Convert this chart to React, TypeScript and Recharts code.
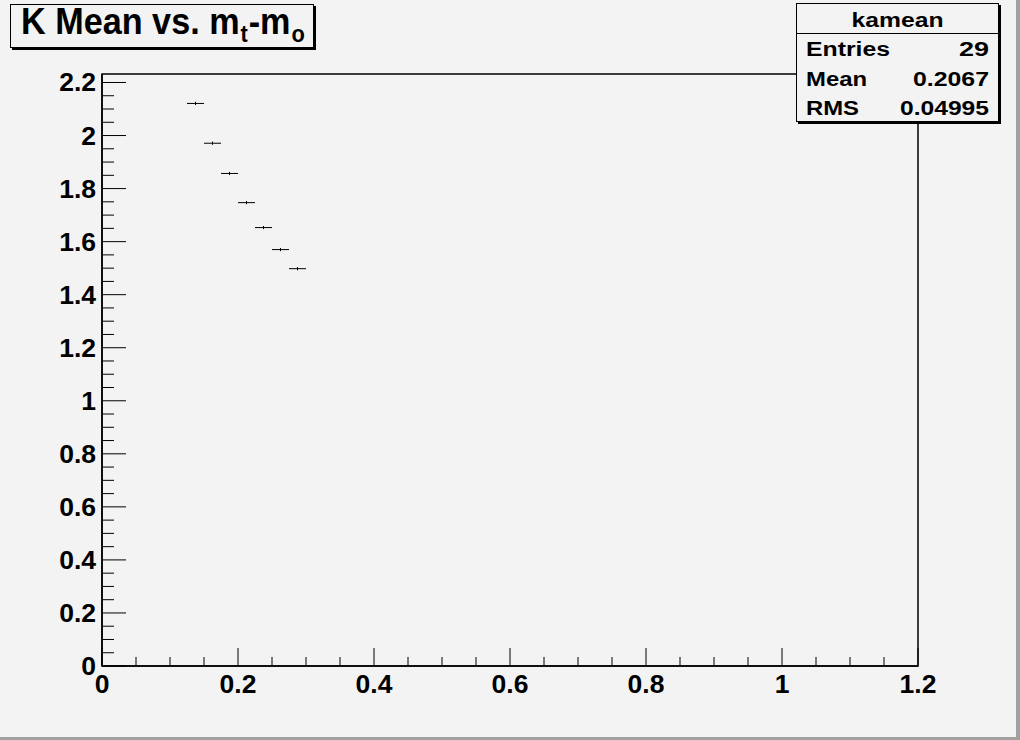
import React from 'react';
import { ScatterChart, Scatter, XAxis, YAxis, ErrorBar, ReferenceArea } from 'recharts';

// ---- data ----
const binCenters = [0.1375, 0.1625, 0.1875, 0.2125, 0.2375, 0.2625, 0.2875];
const kMeanValues = [2.121, 1.971, 1.857, 1.747, 1.653, 1.57, 1.498];
const binHalfWidths = [0.0125, 0.0125, 0.0125, 0.0125, 0.0125, 0.0125, 0.0125];
const kMeanErrors = [0.006, 0.006, 0.006, 0.006, 0.006, 0.006, 0.006];

const xTickValues = Array.from({ length: 25 }, (_, i) => +(i * 0.05).toFixed(2));
const yTickValues = Array.from({ length: 45 }, (_, i) => +(i * 0.05).toFixed(2));
const xMajorLabels = ['0', '0.2', '0.4', '0.6', '0.8', '1', '1.2'];
const yMajorLabels = ['0', '0.2', '0.4', '0.6', '0.8', '1', '1.2', '1.4', '1.6', '1.8', '2', '2.2'];

const statsTitle = 'kamean';
const statsNames = ['Entries', 'Mean', 'RMS'];
const statsValues = ['29', '0.2067', '0.04995'];

const data = binCenters.map((x, i) => ({
  x,
  y: kMeanValues[i],
  xerr: binHalfWidths[i],
  yerr: kMeanErrors[i],
}));

const FONT = '"Liberation Sans", Arial, Helvetica, sans-serif';
const BG = '#f3f3f3';

const isMajor = (v: number) => Math.abs(v * 5 - Math.round(v * 5)) < 1e-6;

const XTick = (props: any) => {
  const { x, y, payload } = props;
  const v = payload.value as number;
  const major = isMajor(v);
  const idx = Math.round(v * 5);
  return (
    <g>
      <line x1={x} x2={x} y1={y} y2={y - (major ? 18 : 9)} stroke="#000" strokeWidth={1} />
      {major && (
        <text x={x} y={y + 27} textAnchor="middle" fontFamily={FONT} fontWeight="bold" fontSize={26.5} fill="#000">
          {xMajorLabels[idx]}
        </text>
      )}
    </g>
  );
};

const YTick = (props: any) => {
  const { x, y, payload } = props;
  const v = payload.value as number;
  const major = isMajor(v);
  const idx = Math.round(v * 5);
  return (
    <g>
      <line x1={x} x2={x + (major ? 24 : 12)} y1={y} y2={y} stroke="#000" strokeWidth={1} />
      {major && (
        <text x={x - 6} y={y + 9} textAnchor="end" fontFamily={FONT} fontWeight="bold" fontSize={26.5} fill="#000">
          {yMajorLabels[idx]}
        </text>
      )}
    </g>
  );
};

const NoShape = () => <g />;

export default function App() {
  return (
    <div style={{ position: 'absolute', left: 0, top: 0, width: 1020, height: 740, background: BG }}>
      <ScatterChart width={1020} height={740} margin={{ top: 74, right: 102, bottom: 0, left: 0 }}>
        <XAxis
          type="number"
          dataKey="x"
          domain={[0, 1.2]}
          ticks={xTickValues}
          interval={0}
          tickSize={0}
          tickMargin={0}
          tick={<XTick />}
          height={74}
          axisLine={{ stroke: '#000', strokeWidth: 1.5 }}
          tickLine={false}
          allowDataOverflow
        />
        <YAxis
          type="number"
          dataKey="y"
          domain={[0, 2.232]}
          ticks={yTickValues}
          interval={0}
          tickSize={0}
          tickMargin={0}
          tick={<YTick />}
          width={102}
          axisLine={{ stroke: '#000', strokeWidth: 1.5 }}
          tickLine={false}
          allowDataOverflow
        />
        <ReferenceArea x1={0} x2={1.2} y1={0} y2={2.232} fill="none" stroke="#000" strokeWidth={1.5} fillOpacity={0} ifOverflow="visible" />
        <Scatter data={data} shape={<NoShape />} isAnimationActive={false}>
          <ErrorBar dataKey="xerr" direction="x" width={0} stroke="#000" strokeWidth={1} isAnimationActive={false} />
          <ErrorBar dataKey="yerr" direction="y" width={0} stroke="#000" strokeWidth={1} isAnimationActive={false} />
        </Scatter>
      </ScatterChart>
      <svg width={1020} height={740} style={{ position: 'absolute', left: 0, top: 0, pointerEvents: 'none' }}>
        {/* canvas bevel */}
        <rect x={1016} y={0} width={4} height={740} fill="#a0a0a0" />
        <rect x={0} y={737} width={1020} height={3} fill="#a0a0a0" />
        {/* title box */}
        <rect x={12} y={6} width={304} height={44} fill="#000" />
        <rect x={10.5} y={4.5} width={303} height={43} fill={BG} stroke="#000" strokeWidth={1} />
        <g transform="translate(21,33.5) scale(0.95,1)">
          <text x={0} y={0} fontFamily={FONT} fontWeight="bold" fontSize={36} fill="#000">
            K Mean vs. m
            <tspan fontSize={23} dx={1} dy={8}>t</tspan>
            <tspan fontSize={36} dx={1} dy={-8}>-m</tspan>
            <tspan fontSize={23} dx={1} dy={8}>o</tspan>
          </text>
        </g>
        {/* stats box */}
        <rect x={798} y={5} width={203} height={119} fill="#000" />
        <rect x={796.5} y={3.5} width={202} height={118} fill={BG} stroke="#000" strokeWidth={1} />
        <line x1={796.5} x2={998.5} y1={33.5} y2={33.5} stroke="#000" strokeWidth={1} />
        <text x={897.5} y={27} textAnchor="middle" fontFamily={FONT} fontWeight="bold" fontSize={21} fill="#000" textLength={92} lengthAdjust="spacingAndGlyphs">
          {statsTitle}
        </text>
        {statsNames.map((n, i) => (
          <text key={n} x={806} y={56 + i * 29.5} fontFamily={FONT} fontWeight="bold" fontSize={20} fill="#000"
            textLength={[84, 61, 53][i]} lengthAdjust="spacingAndGlyphs">
            {n}
          </text>
        ))}
        {statsValues.map((v, i) => (
          <text key={v} x={989} y={56 + i * 29.5} textAnchor="end" fontFamily={FONT} fontWeight="bold" fontSize={20} fill="#000"
            textLength={[30, 76, 89][i]} lengthAdjust="spacingAndGlyphs">
            {v}
          </text>
        ))}
      </svg>
    </div>
  );
}
